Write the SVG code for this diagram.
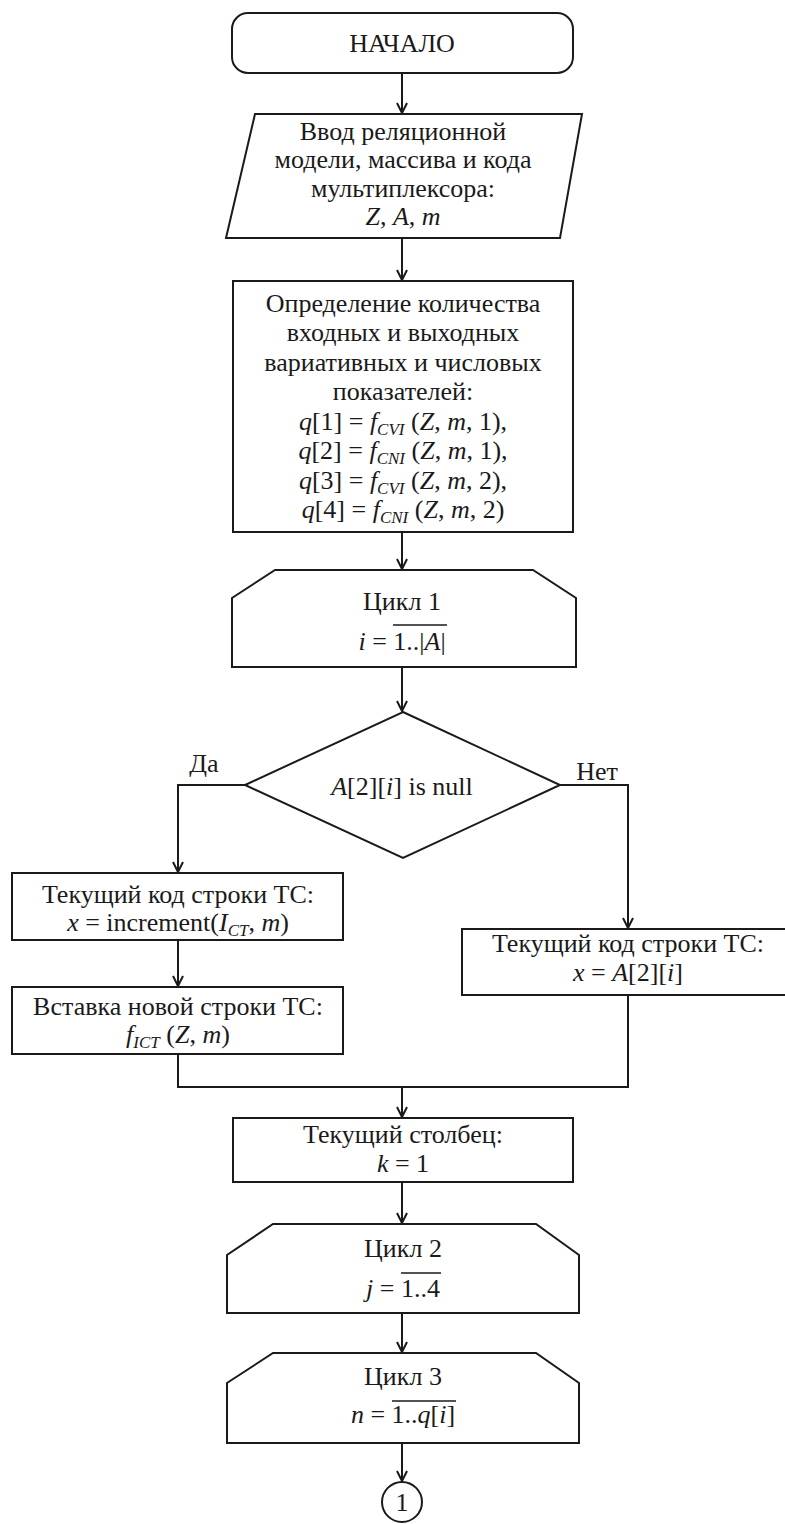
<svg xmlns="http://www.w3.org/2000/svg" width="785" height="1524" viewBox="0 0 785 1524">
<style>
text{font-family:"Liberation Serif","Times New Roman",serif;font-size:26px;fill:#1a1a1a;text-anchor:middle}
.i{font-style:italic}
.sub{font-size:17px;font-style:italic}
.shape{fill:#fff;stroke:#1a1a1a;stroke-width:2}
.conn{fill:none;stroke:#1a1a1a;stroke-width:2}
.ov{stroke:#1a1a1a;stroke-width:1.5}
</style>
<defs>
<marker id="arr" viewBox="0 0 12 12" refX="11" refY="6" markerWidth="12" markerHeight="12" markerUnits="userSpaceOnUse" orient="auto">
<path d="M1,1 L11,6 L1,11" fill="none" stroke="#1a1a1a" stroke-width="2"/>
</marker>
</defs>
<rect width="785" height="1524" fill="#fff"/>
<g id="connectors">
<line class="conn" x1="402" y1="73" x2="402" y2="113" marker-end="url(#arr)"/>
<line class="conn" x1="402" y1="238" x2="402" y2="280" marker-end="url(#arr)"/>
<line class="conn" x1="402" y1="532" x2="402" y2="569" marker-end="url(#arr)"/>
<line class="conn" x1="402" y1="667" x2="402" y2="711" marker-end="url(#arr)"/>
<polyline class="conn" points="245,785 178,785 178,872" marker-end="url(#arr)"/>
<line class="conn" x1="178" y1="940" x2="178" y2="986" marker-end="url(#arr)"/>
<polyline class="conn" points="560,785 628,785 628,928" marker-end="url(#arr)"/>
<polyline class="conn" points="178,1054 178,1087 628,1087 628,995"/>
<line class="conn" x1="402" y1="1087" x2="402" y2="1117" marker-end="url(#arr)"/>
<line class="conn" x1="402" y1="1182" x2="402" y2="1223" marker-end="url(#arr)"/>
<line class="conn" x1="402" y1="1313" x2="402" y2="1352" marker-end="url(#arr)"/>
<line class="conn" x1="402" y1="1443" x2="402" y2="1481" marker-end="url(#arr)"/>
</g>
<g id="start">
<rect class="shape" x="232" y="13" width="341" height="60" rx="16"/>
<text x="402" y="52">НАЧАЛО</text>
</g>
<g id="input">
<polygon class="shape" points="255,114 582,114 560,238 226,238"/>
<text x="403" y="140">Ввод реляционной</text>
<text x="403" y="168">модели, массива и кода</text>
<text x="403" y="197">мультиплексора:</text>
<text x="403" y="225"><tspan class="i">Z</tspan>, <tspan class="i">A</tspan>, <tspan class="i">m</tspan></text>
</g>
<g id="define">
<rect class="shape" x="233" y="281" width="340" height="251"/>
<text x="403" y="312">Определение количества</text>
<text x="403" y="341">входных и выходных</text>
<text x="403" y="371">вариативных и числовых</text>
<text x="403" y="400">показателей:</text>
<text x="403" y="430"><tspan class="i">q</tspan>[1] = <tspan class="i">f</tspan><tspan class="sub" dy="5">CVI</tspan><tspan dy="-5"> (</tspan><tspan class="i">Z</tspan>, <tspan class="i">m</tspan>, 1),</text>
<text x="403" y="459"><tspan class="i">q</tspan>[2] = <tspan class="i">f</tspan><tspan class="sub" dy="5">CNI</tspan><tspan dy="-5"> (</tspan><tspan class="i">Z</tspan>, <tspan class="i">m</tspan>, 1),</text>
<text x="403" y="489"><tspan class="i">q</tspan>[3] = <tspan class="i">f</tspan><tspan class="sub" dy="5">CVI</tspan><tspan dy="-5"> (</tspan><tspan class="i">Z</tspan>, <tspan class="i">m</tspan>, 2),</text>
<text x="403" y="518"><tspan class="i">q</tspan>[4] = <tspan class="i">f</tspan><tspan class="sub" dy="5">CNI</tspan><tspan dy="-5"> (</tspan><tspan class="i">Z</tspan>, <tspan class="i">m</tspan>, 2)</text>
</g>
<g id="loop1">
<polygon class="shape" points="275,570 533,570 576,598 576,667 232,667 232,598"/>
<text x="402" y="610">Цикл 1</text>
<text x="402" y="650"><tspan class="i">i</tspan> = 1..|<tspan class="i">A</tspan>|</text>
<line class="ov" x1="393" y1="625" x2="447" y2="625"/>
</g>
<g id="decision">
<polygon class="shape" points="403,712 560,785 403,858 245,785"/>
<text x="402" y="795"><tspan class="i">A</tspan>[2][<tspan class="i">i</tspan>] is null</text>
<text x="204" y="772">Да</text>
<text x="597" y="780">Нет</text>
</g>
<g id="code-new">
<rect class="shape" x="12" y="873" width="331" height="67"/>
<text x="178" y="903">Текущий код строки ТС:</text>
<text x="178" y="931"><tspan class="i">x</tspan> = increment(<tspan class="i">I</tspan><tspan class="sub" dy="5">CT</tspan><tspan dy="-5">, </tspan><tspan class="i">m</tspan>)</text>
</g>
<g id="insert-row">
<rect class="shape" x="12" y="987" width="331" height="67"/>
<text x="178" y="1015">Вставка новой строки ТС:</text>
<text x="178" y="1043"><tspan class="i">f</tspan><tspan class="sub" dy="5">ICT</tspan><tspan dy="-5"> (</tspan><tspan class="i">Z</tspan>, <tspan class="i">m</tspan>)</text>
</g>
<g id="code-existing">
<rect class="shape" x="462" y="929" width="333" height="66"/>
<text x="628" y="952">Текущий код строки ТС:</text>
<text x="628" y="981"><tspan class="i">x</tspan> = <tspan class="i">A</tspan>[2][<tspan class="i">i</tspan>]</text>
</g>
<g id="column">
<rect class="shape" x="233" y="1118" width="340" height="64"/>
<text x="403" y="1143">Текущий столбец:</text>
<text x="403" y="1172"><tspan class="i">k</tspan> = 1</text>
</g>
<g id="loop2">
<polygon class="shape" points="273,1224 536,1224 579,1255 579,1313 227,1313 227,1255"/>
<text x="403" y="1257">Цикл 2</text>
<text x="403" y="1297"><tspan class="i">j</tspan> = 1..4</text>
<line class="ov" x1="401" y1="1273" x2="441" y2="1273"/>
</g>
<g id="loop3">
<polygon class="shape" points="273,1353 536,1353 579,1383 579,1443 227,1443 227,1383"/>
<text x="403" y="1385">Цикл 3</text>
<text x="403" y="1423"><tspan class="i">n</tspan> = 1..<tspan class="i">q</tspan>[<tspan class="i">i</tspan>]</text>
<line class="ov" x1="392" y1="1401" x2="456" y2="1401"/>
</g>
<g id="connector-1">
<circle class="shape" cx="402" cy="1502" r="20"/>
<text x="402" y="1511">1</text>
</g>
</svg>
